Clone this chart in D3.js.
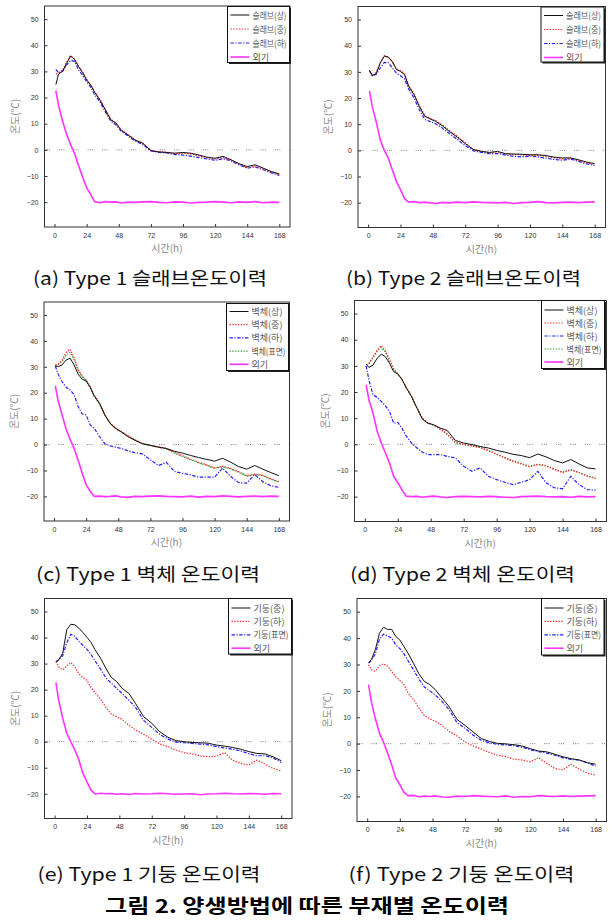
<!DOCTYPE html>
<meta charset="utf-8">
<style>
  body { margin: 0; background: #fff; }
  text { font-family: "Liberation Sans", "DejaVu Sans", sans-serif; }
  .kr { font-family: "Noto Sans CJK KR", "Noto Sans", sans-serif; }
</style>
<body>
</body>

<script src="https://d3js.org/d3.v7.min.js"></script>
<script>

var hours = [1,3,6,9,12,15,18,21,24,27,30,34,38,42,46,50,55,60,66,72,78,84,90,96,102,108,114,120,126,132,138,144,150,156,162,168];
var hourTicks = [0,24,48,72,96,120,144,168];
var tempTicks = [-20,-10,0,10,20,30,40,50];

var slabNames = ["슬래브(상)","슬래브(중)","슬래브(하)","외기"];
var wallNames = ["벽체(상)","벽체(중)","벽체(하)","벽체(표면)","외기"];
var columnNames = ["기둥(중)","기둥(하)","기둥(표면)","외기"];
var captions = ["(a) Type 1 슬래브온도이력","(b) Type 2 슬래브온도이력","(c) Type 1 벽체 온도이력",
                "(d) Type 2 벽체 온도이력","(e) Type 1 기둥 온도이력","(f) Type 2 기둥 온도이력"];
var figTitle = "그림 2. 양생방법에 따른 부재별 온도이력";

// (a) Type 1 slab
var aTop = [25,29,30,33,35.9,34.5,31.8,29.5,26.7,24.8,22,19,15.3,11.5,10.2,7.4,5.7,3.8,2.5,-0.3,-0.8,-1,-1.3,-1,-1.3,-2,-2.8,-3.2,-2.5,-3.8,-5.3,-6.4,-5.7,-7,-8.3,-9.2];
var aMid = [29,29.5,30.5,33.5,36,34.8,32,29.8,27,25,22.2,19.2,15.5,11.8,10,7.6,5.8,3.9,2.6,-0.2,-0.7,-0.9,-1.4,-1.3,-1.6,-2.3,-3,-3.5,-3,-4,-5.5,-6.8,-6.2,-7.3,-8.5,-9.5];
var aBot = [30.8,29.5,30,32.5,34.2,33.8,30.5,28.5,26,24,21,18.3,14.5,11,9.5,7,5.3,3.5,2,-0.4,-1,-1.2,-1.8,-2,-2.4,-3,-3.5,-4,-3.4,-4.2,-5.8,-7,-6.5,-7.6,-8.8,-9.8];
var aOut = [22.6,17,11,6,2,-1.5,-6,-10.5,-14.5,-17,-19.8,-20.2,-19.8,-20,-19.9,-20.3,-20,-20.1,-19.9,-19.8,-20.1,-20.2,-19.9,-20,-20.3,-20.1,-20,-19.8,-20,-20.2,-19.9,-20.1,-19.8,-20.2,-20,-20.1];

// (b) Type 2 slab
var bTop = [30.6,28.6,29.3,33.4,36,35.7,34,30.9,30.2,29,24.5,21.3,16.8,13,12,11.1,9.4,7.3,5.1,2.6,0.3,-0.4,-0.8,-0.4,-1.3,-1.4,-1.5,-1.7,-1.7,-2,-2.6,-2.9,-2.9,-3.6,-4.5,-5.1];
var bMid = [30.4,28.8,29.8,33.6,36.2,35.5,33.6,31.2,30.4,29.4,25,21.6,17.2,13.3,12.2,11.4,9.8,7.7,5.5,2.8,0.4,-0.3,-0.9,-0.6,-1.4,-1.6,-1.7,-2,-1.8,-2.3,-2.9,-3.3,-3,-3.9,-4.8,-5.3];
var bBot = [30.5,28.5,29,31.5,33.6,33.5,31.5,29.5,28.5,27.3,23.5,20,15.5,11.8,11,10.2,8.5,6.5,4.2,1.8,-0.2,-0.8,-1.3,-1.2,-1.8,-2.3,-2.5,-2.2,-2.5,-3,-3.5,-3.8,-3.3,-4.2,-5.2,-5.8];
var bOut = [22.7,17,11,4,0,-3,-7.5,-12,-15,-18.5,-19.8,-19.6,-20,-19.8,-20.1,-20.3,-19.9,-20.1,-19.8,-20,-19.7,-19.9,-20,-20.1,-19.9,-20.3,-20,-19.9,-19.6,-20,-20.1,-19.9,-19.8,-20,-19.8,-19.7];

// (c) Type 1 wall
var cTop = [30.3,30.1,30.7,32.6,33.3,30.7,27.2,25.2,24.5,22.1,18.8,15.9,11.4,8.2,6.3,5,3.1,1.8,0.3,-0.3,-1,-1.5,-2.6,-3.3,-4.2,-5,-5.7,-6.4,-5.3,-6.8,-8.5,-9.5,-8.1,-9.5,-10.8,-12];
var cMid = [30.7,31,32.5,35.5,36.8,33.5,29,26.5,25,22.5,19,16,11.5,8.2,6.3,5.1,3.5,2,0.5,-0.3,-0.8,-1.5,-3,-4.3,-5.6,-6.8,-7.8,-9,-8.4,-9.2,-10.5,-12,-11.4,-11.8,-13.2,-14.3];
var cBot = [30.3,27.2,24.3,22.1,21.1,19.2,14.7,11.8,11.4,7.6,6.3,3.1,0.3,-0.5,-1,-1.5,-2.3,-3.1,-3.6,-5.9,-8.1,-6.9,-10.4,-11.1,-11.7,-12.6,-12.6,-12.6,-9.1,-12.3,-14.7,-14.9,-11.6,-14.3,-15.9,-16.5];
var cSurf = [30.5,30.8,32,34.5,35.6,32.8,28.5,26.2,24.6,22,18.6,15.6,11.3,8,6.1,4.9,3.3,1.8,0.3,-0.4,-1.1,-1.8,-3.3,-4.6,-5.9,-7.1,-8,-9.2,-8.6,-9.4,-10.7,-12.2,-11.6,-12,-13.4,-14.5];
var cOut = [22.6,17,11.5,6,2,-1.5,-6,-11,-15.5,-18,-20,-19.9,-20.1,-20,-19.8,-20.2,-20.4,-20,-20.1,-19.9,-19.8,-20,-20.1,-20.2,-19.9,-20.3,-20,-20.1,-19.8,-20,-20.2,-20,-19.9,-20.1,-19.9,-20];

// (d) Type 2 wall
var dTop = [30.7,29.4,30.3,32.9,34.5,33.5,31,27.8,26.9,24.9,21.8,18.3,13.8,9.6,8.1,7.5,6.2,5.3,1.5,0.5,-0.1,-0.8,-1.4,-2.3,-3,-3.8,-4.3,-5.1,-3.7,-4.8,-6.2,-7.1,-5.8,-7.5,-9,-9.4];
var dMid = [30.5,31,33.5,36,37.8,35.8,32.5,29,27,25,22,18.5,14,10,8.2,7.5,6,4,0.8,0,-0.6,-1.2,-2.4,-3.8,-5.2,-6.5,-7.5,-8.6,-7.7,-8.3,-9.6,-10.8,-9.8,-10.8,-12.2,-13];
var dBot = [30,24.6,18.9,18,16.4,14.7,12.6,8.1,8.4,6.2,3.3,0.5,-1.4,-3,-3.9,-3.9,-3.9,-4.6,-5.2,-8.4,-10.3,-9,-12.2,-13.5,-14.5,-15.4,-14.5,-13.5,-10.3,-14.7,-16.6,-17,-12.2,-15.4,-17.3,-17.5];
var dSurf = [30.5,30.8,33,35.5,37,35.2,32,28.5,26.7,24.8,21.8,18.3,13.8,9.8,8,7.3,5.7,3.8,0.6,-0.1,-0.6,-1.2,-2.4,-3.7,-5,-6.3,-7.3,-8.4,-7.6,-8.1,-9.4,-10.6,-9.7,-10.7,-12,-12.8];
var dOut = [22.7,17,12,5,0.5,-3.3,-7.1,-12.2,-14.7,-17.3,-19.8,-20,-19.9,-20.2,-20,-19.8,-20.1,-20.3,-20,-19.9,-20,-20.1,-19.9,-20,-20.2,-20.3,-20,-19.9,-19.8,-20,-20.1,-20,-20.2,-19.9,-20.1,-20];

// (e) Type 1 column
var eMid = [30.8,31.4,34,43,45.1,44.9,43.6,41.9,40.1,38.1,35.3,32.1,28.2,24.7,23.1,20.5,18.6,14.7,9.6,7.1,3.8,1.7,0.4,0,-0.3,-0.4,-0.6,-1.3,-1.7,-2.2,-2.9,-3.8,-4.5,-4.7,-5.8,-7.3];
var eBot = [30.8,28.8,27.6,29.1,30.4,28.8,26,24.7,23.5,20.9,18.8,16.3,13.2,10.6,9.6,8.6,6.4,4.5,2.9,0.9,-0.9,-1.9,-3.2,-4.2,-4.7,-5.5,-5.8,-5.5,-4.2,-7.1,-8.3,-9,-7.1,-8.6,-10.3,-11.2];
var eSurf = [30.5,31.5,33,38,41.3,40.5,38.5,37,35.5,33.5,31,28,24.5,22.5,20.5,18.5,16,13.2,8.2,5.5,2.8,1,-0.2,-0.4,-0.7,-0.9,-1.2,-1.9,-2.4,-2.9,-3.6,-4.6,-5.4,-5.4,-6.2,-8];
var eOut = [22.7,16,9,3.2,0,-3.2,-7,-12.2,-15.4,-18.6,-20.1,-19.8,-20,-19.9,-20.2,-20,-20.3,-19.9,-20.1,-20,-19.8,-20,-20.2,-20.1,-20,-20.4,-20.1,-20,-19.8,-20,-20.1,-19.9,-20,-20.2,-19.9,-20];

// (f) Type 2 column
var fMid = [30.8,31.8,35.6,41.8,44.1,43.3,43.3,40.6,39.3,36.8,34.3,30.5,26.5,23.6,22.4,20.5,17.3,14.2,9.2,6.9,4.4,1.9,0.8,0.1,-0.1,-0.4,-0.9,-1.9,-2.8,-3.1,-4,-5,-5.7,-6.2,-7.2,-7.8];
var fBot = [29.9,28,27.4,29.5,30.3,29.3,27.4,25.3,24,22.4,19.2,16.7,13.6,10.7,9.4,8.5,6.9,4.8,2.9,0.6,-0.9,-2.1,-3.4,-4.4,-4.9,-5.9,-6.2,-6.9,-5.3,-7.4,-9.4,-9.9,-7.8,-9.7,-11.2,-11.9];
var fSurf = [30.5,31.5,34,39.5,41.5,40.8,40,37.5,36,34,31.5,28,24.5,21.5,20,18.5,16,13,8,5.8,3.2,1.2,0.3,-0.3,-0.5,-0.8,-1.4,-2.3,-3,-3.6,-4.4,-5.4,-6,-6.2,-7.3,-8.5];
var fOut = [22.4,16,9.5,4,0.5,-3.5,-8,-13,-15.5,-18.5,-19.7,-19.6,-20.1,-19.9,-20,-19.8,-20.2,-20.3,-19.9,-20,-19.7,-19.9,-20,-20.1,-19.8,-20.3,-20,-20.1,-19.7,-19.9,-20,-19.8,-20,-19.9,-19.8,-19.7];

// line styles
var styles = {
  solid:   {color: "#111", width: 1, dash: null},
  dotted:  {color: "#ff2a2a", width: 1.2, dash: "1.4,1.4"},
  dashdot: {color: "#2020ff", width: 1.2, dash: "3.5,1.5,1.2,1.5"},
  green:   {color: "#1c8c1c", width: 1.2, dash: "1.2,1.6"},
  outside: {color: "#ff33ff", width: 1.6, dash: null}
};

var panels = [
  {frame: [44.5, 6, 245.5, 221], legend: [227.5, 6.5, 62, 56], rowY: 8.5, rowH: 14,
   names: slabNames, series: [aTop, aMid, aBot, aOut], kinds: ["solid","dotted","dashdot","outside"],
   caption: [33, 285, 234]},
  {frame: [358, 6.5, 247.5, 221], legend: [541, 7, 63, 55], rowY: 8.5, rowH: 14,
   names: slabNames, series: [bTop, bMid, bBot, bOut], kinds: ["solid","dotted","dashdot","outside"],
   caption: [346, 285, 235]},
  {frame: [44, 302, 245.5, 219], legend: [226.5, 303.5, 62, 67], rowY: 8, rowH: 13.2,
   names: wallNames, series: [cTop, cMid, cBot, cSurf, cOut], kinds: ["solid","dotted","dashdot","green","outside"],
   caption: [36, 581, 224]},
  {frame: [354.5, 300.5, 252, 221], legend: [541.5, 300.5, 63, 68], rowY: 9.5, rowH: 13,
   names: wallNames, series: [dTop, dMid, dBot, dSurf, dOut], kinds: ["solid","dotted","dashdot","green","outside"],
   caption: [350, 581, 225]},
  {frame: [44.5, 598.5, 247.5, 220], legend: [228.5, 598.5, 63, 55.5], rowY: 9.5, rowH: 13.4,
   names: columnNames, series: [eMid, eBot, eSurf, eOut], kinds: ["solid","dotted","dashdot","outside"],
   caption: [37.5, 881, 223]},
  {frame: [357, 598.5, 249.5, 223], legend: [541.5, 598.5, 62.5, 56.5], rowY: 9.5, rowH: 13.4,
   names: columnNames, series: [fMid, fBot, fSurf, fOut], kinds: ["solid","dotted","dashdot","outside"],
   caption: [348.5, 881, 226]}
];

var svg = d3.select("body").append("svg")
  .attr("width", 612)
  .attr("height", 922);

panels.forEach(function(p, i) {
  var fx = p.frame[0], fy = p.frame[1], fw = p.frame[2], fh = p.frame[3];

  var x = d3.scaleLinear().domain([-7.5, 176]).range([fx, fx + fw]);
  var y = d3.scaleLinear().domain([-29.5, 55]).range([fy + fh, fy]);

  var g = svg.append("g").attr("class", "panel");

  // zero reference line
  g.append("line")
    .attr("x1", fx).attr("x2", fx + fw)
    .attr("y1", y(0)).attr("y2", y(0))
    .attr("stroke", "#555")
    .attr("stroke-width", 0.8)
    .attr("stroke-dasharray", "1,1.2,1,1.2,1,9");

  // axes with inward ticks
  var xAxis = d3.axisBottom(x).tickValues(hourTicks).tickSizeInner(-3).tickSizeOuter(0).tickPadding(6);
  var yAxis = d3.axisLeft(y).tickValues(tempTicks).tickSizeInner(-3).tickSizeOuter(0).tickPadding(6);

  var gx = g.append("g").attr("transform", "translate(0," + (fy + fh) + ")").call(xAxis);
  var gy = g.append("g").attr("transform", "translate(" + fx + ",0)").call(yAxis);
  [gx, gy].forEach(function(a) {
    a.select(".domain").remove();
    a.selectAll(".tick line").attr("stroke", "#333");
    a.selectAll(".tick text").attr("font-size", 7).attr("fill", "#333")
      .attr("font-family", "'Liberation Sans', sans-serif");
  });

  // curves
  var line = d3.line()
    .x(function(d) { return x(d[0]); })
    .y(function(d) { return y(d[1]); });

  var order = d3.range(p.series.length).reverse();
  order.forEach(function(k) {
    var st = styles[p.kinds[k]];
    g.append("path")
      .datum(hours.map(function(h, j) { return [h, p.series[k][j]]; }))
      .attr("fill", "none")
      .attr("stroke", st.color)
      .attr("stroke-width", st.width)
      .attr("stroke-dasharray", st.dash)
      .attr("stroke-linejoin", "round")
      .attr("d", line);
  });

  // frame
  g.append("rect")
    .attr("x", fx).attr("y", fy)
    .attr("width", fw).attr("height", fh)
    .attr("fill", "none")
    .attr("stroke", "#333")
    .attr("stroke-width", 1);

  // legend
  var lx = p.legend[0], ly = p.legend[1], lw = p.legend[2], lh = p.legend[3];
  g.append("rect")
    .attr("x", lx + 1.5).attr("y", ly + 1.5)
    .attr("width", lw).attr("height", lh)
    .attr("fill", "#222");
  g.append("rect")
    .attr("x", lx).attr("y", ly)
    .attr("width", lw).attr("height", lh)
    .attr("fill", "#fff")
    .attr("stroke", "#111")
    .attr("stroke-width", 1);

  p.names.forEach(function(name, k) {
    var st = styles[p.kinds[k]];
    var ry = ly + p.rowY + k * p.rowH;
    g.append("line")
      .attr("x1", lx + 3).attr("x2", lx + 22)
      .attr("y1", ry).attr("y2", ry)
      .attr("stroke", st.color)
      .attr("stroke-width", st.width)
      .attr("stroke-dasharray", st.dash);
    var t = g.append("text")
      .attr("class", "kr")
      .attr("x", lx + 25).attr("y", ry + 3.5)
      .attr("font-size", 9)
      .attr("fill", "#555")
      .text(name);
    // squeeze long labels so they stay inside the box
    var room = lw - 28;
    if (t.node().getComputedTextLength() > room) {
      t.attr("textLength", room).attr("lengthAdjust", "spacingAndGlyphs");
    }
  });

  // axis titles
  g.append("text")
    .attr("class", "kr")
    .attr("x", x(84)).attr("y", fy + fh + 25)
    .attr("text-anchor", "middle")
    .attr("font-size", 10)
    .attr("fill", "#888")
    .text("시간(h)");
  g.append("text")
    .attr("class", "kr")
    .attr("transform", "translate(" + (fx - 26) + "," + (fy + fh / 2) + ") rotate(-90)")
    .attr("text-anchor", "middle")
    .attr("font-size", 10)
    .attr("fill", "#888")
    .text("온도(℃)");

  // caption
  g.append("text")
    .attr("class", "kr")
    .attr("x", p.caption[0]).attr("y", p.caption[1])
    .attr("font-size", 18)
    .attr("fill", "#111")
    .attr("textLength", p.caption[2])
    .attr("lengthAdjust", "spacingAndGlyphs")
    .text(captions[i]);
});

svg.append("text")
  .attr("class", "kr")
  .attr("x", 105).attr("y", 913)
  .attr("font-size", 19)
  .attr("font-weight", 700)
  .attr("fill", "#000")
  .attr("textLength", 404)
  .attr("lengthAdjust", "spacingAndGlyphs")
  .text(figTitle);

</script>
